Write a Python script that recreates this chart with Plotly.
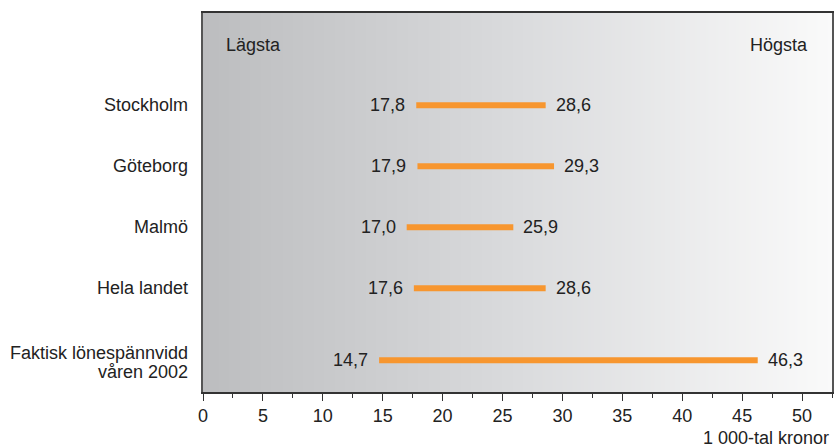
import plotly.graph_objects as go
import numpy as np

categories = ["Stockholm", "Göteborg", "Malmö", "Hela landet", "Faktisk lönespännvidd<br>våren 2002"]
low_values = [17.8, 17.9, 17.0, 17.6, 14.7]
high_values = [28.6, 29.3, 25.9, 28.6, 46.3]
x_tick_values = [0, 5, 10, 15, 20, 25, 30, 35, 40, 45, 50]
x_unit_label = "1 000-tal kronor"
low_label = "Lägsta"
high_label = "Högsta"

# vertical row positions (layout)
row_pos = [0, 1, 2, 3, 4.18]
Y_TOP, Y_BOT = -1.51, 4.70
X_MAX = 52.5

FONT = "Liberation Sans"
FS = 18
TXT = "#222222"
ORANGE = "#f7962f"

def fmt(v):
    return f"{v:.1f}".replace(".", ",")

def tfont():
    return dict(size=FS, color=TXT, family=FONT)

fig = go.Figure()

# gradient background
nx = 60
gx = np.linspace(-1, X_MAX + 1, nx)
z = [list(gx), list(gx)]
fig.add_trace(go.Heatmap(
    x=gx, y=[Y_TOP - 0.5, Y_BOT + 0.5], z=z,
    colorscale=[[0, "#bcbdbf"], [0.5, "#dadbdd"], [1, "#fafafa"]],
    zmin=0, zmax=X_MAX, showscale=False, hoverinfo="skip", zsmooth="best"))

for lo, hi, y in zip(low_values, high_values, row_pos):
    fig.add_trace(go.Scatter(x=[lo, hi], y=[y, y], mode="lines",
                             line=dict(color=ORANGE, width=6), showlegend=False,
                             hoverinfo="skip"))

annotations = []
for cat, lo, hi, y in zip(categories, low_values, high_values, row_pos):
    annotations.append(dict(x=lo, y=y, xref="x", yref="y", text=fmt(lo), showarrow=False,
                            xanchor="right", xshift=-9, font=tfont()))
    annotations.append(dict(x=hi, y=y, xref="x", yref="y", text=fmt(hi), showarrow=False,
                            xanchor="left", xshift=8, font=tfont()))
    lines = cat.split("<br>")
    n = len(lines)
    for i, ln in enumerate(lines):
        shift = 0 if n == 1 else (9.5 - 19 * i) - 2
        annotations.append(dict(x=0, y=y, xref="paper", yref="y", text=ln, showarrow=False,
                                xanchor="right", xshift=-13, yshift=shift, align="right",
                                font=tfont()))

annotations.append(dict(x=0, y=-0.98, xref="paper", yref="y", text=low_label, showarrow=False,
                        xanchor="left", xshift=21, font=tfont()))
annotations.append(dict(x=1, y=-0.98, xref="paper", yref="y", text=high_label, showarrow=False,
                        xanchor="right", xshift=-22, font=tfont()))
annotations.append(dict(x=1, y=0, xref="paper", yref="paper", text=x_unit_label, showarrow=False,
                        xanchor="right", yanchor="top", yshift=-34, xshift=-1,
                        font=tfont()))

fig.update_layout(
    width=836, height=448,
    margin=dict(l=203, r=2, t=13, b=56),
    paper_bgcolor="white", plot_bgcolor="white",
    showlegend=False,
    annotations=annotations,
    xaxis=dict(range=[0, X_MAX], tickvals=x_tick_values, ticks="outside", ticklen=7,
               tickcolor="#333", tickwidth=1, showgrid=False, zeroline=False,
               showline=True, linecolor="#333", linewidth=1.5, mirror=True,
               tickfont=tfont(),
               minor=dict(dtick=2.5, tick0=0, ticks="outside", ticklen=4, tickcolor="#333")),
    yaxis=dict(range=[Y_BOT, Y_TOP], showticklabels=False, ticks="", showgrid=False,
               zeroline=False, showline=True, linecolor="#555", linewidth=1.5, mirror=True),
)

fig.write_html("out.html", config={"displayModeBar": False},
               post_script="document.body.style.margin='0';document.body.style.overflow='hidden';")
